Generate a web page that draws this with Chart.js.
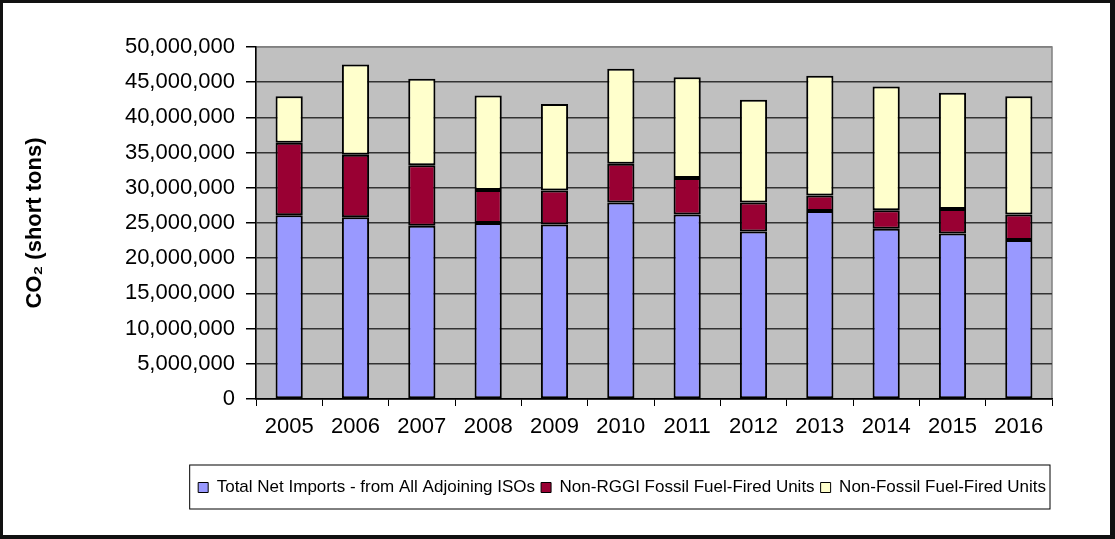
<!DOCTYPE html>
<html>
<head>
<meta charset="utf-8">
<script src="https://cdn.jsdelivr.net/npm/chart.js@4/dist/chart.umd.min.js"></script>
<style>
    html, body { margin: 0; padding: 0; background: #ffffff; }
    #wrap { width: 1115px; height: 539px; position: relative; }
</style>
</head>
<body>
<div id="wrap"><canvas id="co2-chart"></canvas></div>
<script>
const years = ['2005', '2006', '2007', '2008', '2009', '2010', '2011', '2012', '2013', '2014', '2015', '2016'];
const netImports = [26100000, 25800000, 24600000, 25000000, 24800000, 27900000, 26200000, 23800000, 26700000, 24200000, 23500000, 22600000];
const nonRggiFossil = [10300000, 8900000, 8600000, 4700000, 4800000, 5500000, 5200000, 4100000, 2200000, 2600000, 3500000, 3600000];
const nonFossil = [6600000, 12800000, 12300000, 13400000, 12300000, 13500000, 14300000, 14600000, 17000000, 17600000, 16500000, 16800000];
const yTicks = [0, 5000000, 10000000, 15000000, 20000000, 25000000, 30000000, 35000000, 40000000, 45000000, 50000000];

const FONT = 'Arial, "Liberation Sans", sans-serif';

// Backdrop: white page, grey plot area and the dark frame round the picture
const backdrop = {
    id: 'backdrop',
    beforeDraw(chart) {
        const { ctx, chartArea: a, width, height } = chart;
        ctx.save();
        ctx.fillStyle = '#ffffff';
        ctx.fillRect(0, 0, width, height);
        ctx.fillStyle = '#c0c0c0';
        ctx.fillRect(a.left, a.top, a.right - a.left, a.bottom - a.top);
        ctx.strokeStyle = '#808080';
        ctx.lineWidth = 1.5;
        ctx.strokeRect(a.left, a.top, a.right - a.left, a.bottom - a.top);
        ctx.fillStyle = '#111111';
        ctx.fillRect(0, 0, width, 3);
        ctx.fillRect(0, 0, 3, height);
        ctx.fillRect(width - 5, 0, 5, height);
        ctx.fillRect(0, height - 4, width, 4);
        ctx.restore();
    },
    afterDraw(chart) {
        // thin frame round the legend
        const boxes = chart.legend?.legendHitBoxes;
        if (!boxes || !boxes.length) return;
        const first = boxes[0];
        const mid = first.top + first.height / 2;
        const { ctx, chartArea: a } = chart;
        const left = first.left - 8.5;
        ctx.save();
        ctx.strokeStyle = '#000000';
        ctx.lineWidth = 1;
        ctx.strokeRect(left, mid - 22.5, a.right - 2 - left, 44);
        ctx.restore();
    },
};

const ctx = document.getElementById('co2-chart').getContext('2d');

new Chart(ctx, {
    type: 'bar',
    data: {
        labels: years,
        datasets: [
            {
                label: 'Total Net Imports - from All Adjoining ISOs',
                data: netImports,
                backgroundColor: '#9999ff',
            },
            {
                label: 'Non-RGGI Fossil Fuel-Fired Units',
                data: nonRggiFossil,
                backgroundColor: '#990033',
            },
            {
                label: 'Non-Fossil Fuel-Fired Units',
                data: nonFossil,
                backgroundColor: '#ffffcc',
            },
        ],
    },
    options: {
        responsive: true,
        maintainAspectRatio: false,
        animation: false,
        datasets: {
            bar: {
                borderColor: '#000000',
                borderWidth: 2,
                borderSkipped: false,
                categoryPercentage: 1,
                barPercentage: 0.41,
            },
        },
        layout: {
            padding: { left: 20, right: 63, top: 47, bottom: 33 },
        },
        plugins: {
            legend: {
                position: 'bottom',
                align: 'end',
                labels: {
                    color: '#000000',
                    font: { family: FONT, size: 17 },
                    boxWidth: 10,
                    boxHeight: 10,
                    padding: 6,
                    generateLabels(chart) {
                        return chart.data.datasets.map((ds, i) => ({
                            text: ds.label,
                            fillStyle: ds.backgroundColor,
                            strokeStyle: '#000000',
                            lineWidth: 1,
                            datasetIndex: i,
                            hidden: false,
                        }));
                    },
                },
            },
            tooltip: { enabled: false },
        },
        scales: {
            x: {
                stacked: true,
                afterFit(scale) { scale.height = 74; },
                grid: {
                    display: true,
                    drawOnChartArea: false,
                    drawTicks: true,
                    tickLength: 7,
                    tickColor: '#000000',
                    lineWidth: 1,
                    offset: true,
                },
                border: { color: '#000000', width: 1.5 },
                ticks: {
                    color: '#000000',
                    font: { family: FONT, size: 22 },
                    padding: 8,
                    maxRotation: 0,
                },
            },
            y: {
                stacked: true,
                min: 0,
                max: 50000000,
                afterFit(scale) { scale.width = 236; },
                afterBuildTicks(scale) {
                    scale.ticks = yTicks.map((v) => ({ value: v }));
                },
                grid: {
                    color: (c) => (c.tick && c.tick.value === 50000000 ? '#808080' : '#333333'),
                    lineWidth: 1.5,
                    tickColor: '#000000',
                    tickLength: 10,
                },
                border: { color: '#000000', width: 1.5 },
                ticks: {
                    color: '#000000',
                    font: { family: FONT, size: 22 },
                    padding: 11,
                    callback: (v) => Number(v).toLocaleString('en-US'),
                },
                title: {
                    display: true,
                    text: 'CO\u2082 (short tons)',
                    color: '#000000',
                    font: { family: FONT, size: 22, weight: 'bold' },
                    padding: { top: 2, bottom: 0 },
                },
            },
        },
    },
    plugins: [backdrop],
});
</script>
</body>
</html>
